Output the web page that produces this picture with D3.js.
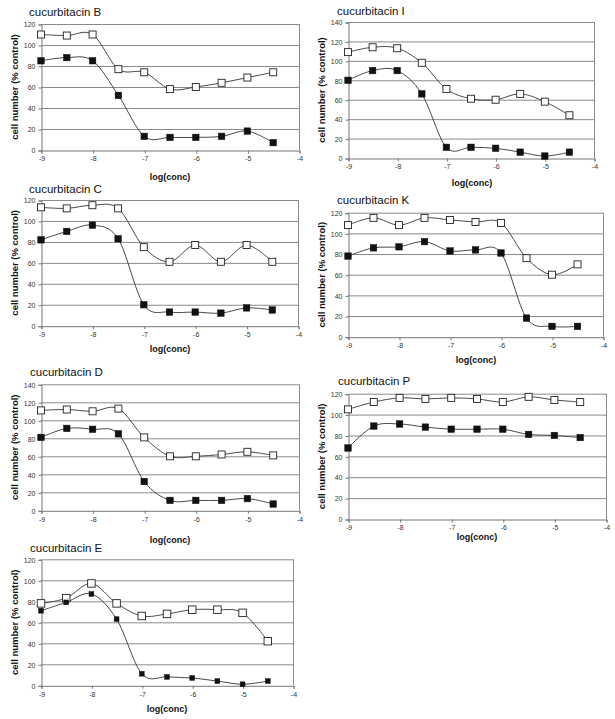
<!DOCTYPE html>
<html><head><meta charset="utf-8">
<script src="https://cdn.jsdelivr.net/npm/d3@7"></script>
<style>
html,body{margin:0;padding:0;background:#fff;}
svg{display:block;font-family:"Liberation Sans",Arial,sans-serif;}
</style></head>
<body><svg id="c" width="615" height="719"></svg>
<script>
// ---- data ----
const concentrations = [-9, -8.5, -8, -7.5, -7, -6.5, -6, -5.5, -5, -4.5];
const xTicks = [-9, -8, -7, -6, -5, -4];
const yTicks120 = [0, 20, 40, 60, 80, 100, 120];
const yTicks140 = [0, 20, 40, 60, 80, 100, 120, 140];
const titles = ["cucurbitacin B", "cucurbitacin I", "cucurbitacin C", "cucurbitacin K", "cucurbitacin D", "cucurbitacin P", "cucurbitacin E"];
const xLabel = "log(conc)";
const yLabel = "cell number (% control)";

const bOpen   = [110, 109, 110, 77, 74, 58, 60, 64, 69, 74];
const bFilled = [85, 88, 85, 52, 13, 12, 12, 13, 18, 7];
const iOpen   = [109, 114, 113, 98, 71, 61, 60, 66, 58, 44];
const iFilled = [80, 90, 90, 66, 11, 11, 10, 6, 2, 6];
const cOpen   = [113, 112, 115, 112, 75, 61, 77, 61, 77, 61];
const cFilled = [82, 90, 96, 83, 20, 13, 13, 12, 17, 15];
const kOpen   = [108, 115, 108, 115, 113, 111, 110, 76, 60, 70];
const kFilled = [78, 86, 87, 92, 83, 84, 81, 18, 10, 10];
const dOpen   = [111, 112, 110, 113, 81, 60, 60, 62, 65, 61];
const dFilled = [81, 91, 90, 85, 32, 11, 11, 11, 13, 7];
const pOpen   = [105, 112, 116, 115, 116, 115, 112, 117, 114, 112];
const pFilled = [68, 89, 91, 88, 86, 86, 86, 81, 80, 78];
const eOpen   = [78, 83, 97, 78, 66, 68, 72, 72, 69, 42];
const eFilled = [71, 79, 87, 63, 11, 8, 7, 4, 1, 4];

// ---- layout ----
const panels = [
  {title: titles[0], open: bOpen, filled: bFilled, yTicks: yTicks120, x0: 41, x1: 299, yt: 24, yb: 150, tx: 29, ty: 16, lx: 170, ly: 180, fs: 6.5, os: 7},
  {title: titles[1], open: iOpen, filled: iFilled, yTicks: yTicks140, x0: 348, x1: 594, yt: 22, yb: 158, tx: 337, ty: 15, lx: 472, ly: 186, fs: 6.5, os: 7},
  {title: titles[2], open: cOpen, filled: cFilled, yTicks: yTicks120, x0: 41, x1: 298, yt: 200, yb: 325.7, tx: 29, ty: 193, lx: 170, ly: 351.5, fs: 6.5, os: 7},
  {title: titles[3], open: kOpen, filled: kFilled, yTicks: yTicks120, x0: 348, x1: 603, yt: 212.7, yb: 336.7, tx: 337, ty: 204, lx: 476, ly: 363, fs: 6.5, os: 7},
  {title: titles[4], open: dOpen, filled: dFilled, yTicks: yTicks140, x0: 41, x1: 299, yt: 384.3, yb: 510.3, tx: 30, ty: 376, lx: 170, ly: 543, fs: 6.5, os: 7},
  {title: titles[5], open: pOpen, filled: pFilled, yTicks: yTicks120, x0: 348, x1: 606, yt: 393.7, yb: 519, tx: 338, ty: 385, lx: 477, ly: 540, fs: 6.5, os: 7},
  {title: titles[6], open: eOpen, filled: eFilled, yTicks: yTicks120, x0: 41, x1: 293, yt: 559.3, yb: 685.3, tx: 30, ty: 552, lx: 167, ly: 711.5, fs: 4.8, os: 7.5}
];

const svg = d3.select("#c");
const gridColor = "#8a8a8a";
const lineColor = "#333";

panels.forEach(p => {
  const ymax = p.yTicks[p.yTicks.length - 1];
  const x = d3.scaleLinear().domain([-9, -4]).range([p.x0, p.x1]);
  const y = d3.scaleLinear().domain([0, ymax]).range([p.yb, p.yt]);
  const g = svg.append("g");

  // title
  g.append("text").attr("x", p.tx).attr("y", p.ty).attr("font-size", 11.5).attr("fill", "#111").text(p.title);

  // gridlines
  g.selectAll(".grid").data(p.yTicks.filter(t => t > 0)).enter().append("line")
    .attr("x1", p.x0).attr("x2", p.x1)
    .attr("y1", d => y(d) + 0.5).attr("y2", d => y(d) + 0.5)
    .attr("stroke", gridColor).attr("stroke-width", 1);
  // right border
  g.append("line").attr("x1", p.x1 + 0.5).attr("x2", p.x1 + 0.5).attr("y1", p.yt).attr("y2", p.yb)
    .attr("stroke", gridColor);

  // axes
  const yAxis = d3.axisLeft(y).tickValues(p.yTicks).tickSize(3).tickPadding(3);
  const yg = g.append("g").attr("transform", `translate(${p.x0 + 0.5},0.5)`).call(yAxis);
  const xAxis = d3.axisBottom(x).tickValues(xTicks).tickSize(3).tickPadding(3).tickFormat(d3.format("d"));
  const xg = g.append("g").attr("transform", `translate(0.5,${p.yb + 0.5})`).call(xAxis);
  [yg, xg].forEach(a => {
    a.select(".domain").attr("stroke", "#777");
    a.selectAll(".tick line").attr("stroke", "#777");
    a.selectAll(".tick text").attr("font-size", 7).attr("fill", "#333")
      .attr("font-family", "'Liberation Sans',Arial,sans-serif");
  });
  xg.selectAll(".tick text").text(d => (d < 0 ? "-" : "") + Math.abs(d));

  // axis labels
  g.append("text").attr("x", p.lx).attr("y", p.ly).attr("text-anchor", "middle")
    .attr("font-size", 9).attr("font-weight", "bold").attr("fill", "#111").text(xLabel);
  const cy = (p.yt + p.yb) / 2;
  g.append("text").attr("transform", `translate(${p.x0 - 23},${cy}) rotate(-90)`)
    .attr("text-anchor", "middle").attr("font-size", 9.5).attr("font-weight", "bold").attr("fill", "#111").text(yLabel);

  // series
  const line = d3.line().x(d => x(d[0])).y(d => y(d[1])).curve(d3.curveCardinal.tension(0));
  const openData = concentrations.map((c, i) => [c, p.open[i]]);
  const filledData = concentrations.map((c, i) => [c, p.filled[i]]);
  [openData, filledData].forEach(data => {
    g.append("path").datum(data).attr("d", line).attr("fill", "none")
      .attr("stroke", lineColor).attr("stroke-width", 0.9);
  });
  g.selectAll(".op").data(openData).enter().append("rect")
    .attr("x", d => x(d[0]) - p.os / 2).attr("y", d => y(d[1]) - p.os / 2)
    .attr("width", p.os).attr("height", p.os)
    .attr("fill", "#fff").attr("stroke", "#222").attr("stroke-width", 0.9);
  g.selectAll(".fp").data(filledData).enter().append("rect")
    .attr("x", d => x(d[0]) - p.fs / 2).attr("y", d => y(d[1]) - p.fs / 2)
    .attr("width", p.fs).attr("height", p.fs)
    .attr("fill", "#111").attr("stroke", "#111").attr("stroke-width", 0.5);
});
</script></body></html>
